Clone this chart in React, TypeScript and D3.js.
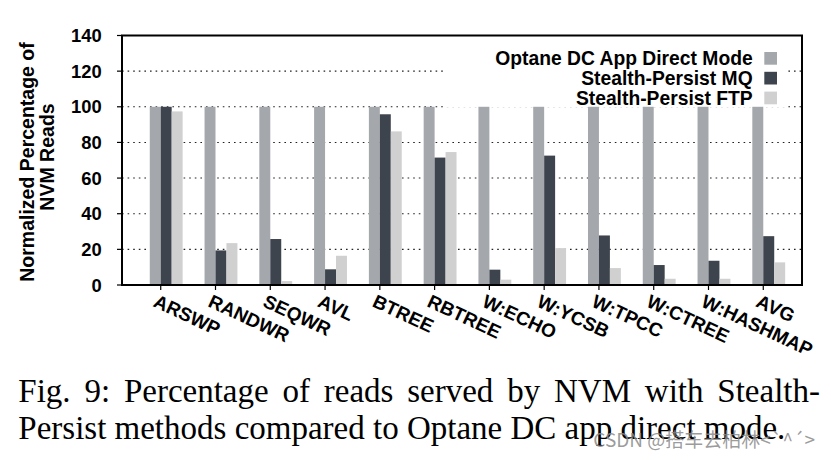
import React, { useMemo } from "react";
import * as d3 from "d3";

const categories = ["ARSWP", "RANDWR", "SEQWR", "AVL", "BTREE", "RBTREE", "W:ECHO", "W:YCSB", "W:TPCC", "W:CTREE", "W:HASHMAP", "AVG"];
const optane = [100, 100, 100, 100, 100, 100, 100, 100, 100, 100, 100, 100];
const stealthMQ = [100, 19.4, 25.8, 8.8, 95.8, 71.5, 8.6, 72.6, 27.8, 11.2, 13.6, 27.4];
const stealthFTP = [97.4, 23.5, 2.2, 16.4, 86.2, 74.6, 3.0, 20.7, 9.5, 3.5, 3.5, 12.7];
const seriesNames = ["Optane DC App Direct Mode", "Stealth-Persist MQ", "Stealth-Persist FTP"];
const seriesColors = ["#a4a8ac", "#3e444e", "#d0d0d0"];
const yTicks = [0, 20, 40, 60, 80, 100, 120, 140];
const yLabelLines = ["Normalized Percentage of", "NVM Reads"];
const captionLine1 = "Fig. 9: Percentage of reads served by NVM with Stealth-";
const captionLine2 = "Persist methods compared to Optane DC app direct mode.";
const watermark = "CSDN @搭车去柏林<`^´>";

const SANS = "'Liberation Sans', Arial, Helvetica, sans-serif";
const SERIF = "'Liberation Serif', 'Times New Roman', serif";

export default function App() {
  const W = 831, H = 460;
  const left = 122, right = 802, top = 35.5, bottom = 285;
  const x = d3.scaleBand<string>().domain(categories).range([left, right]).paddingInner(0).paddingOuter(0.207);
  const y = d3.scaleLinear().domain([0, 140]).range([bottom, top]);
  const barW = x.bandwidth() * 0.2;
  const tickX = (c: string) => (x(c) as number) + x.bandwidth() / 2;
  const series = [optane, stealthMQ, stealthFTP];

  const words1 = useMemo(() => {
    const words = captionLine1.split(" ");
    const canvas = document.createElement("canvas");
    const ctx = canvas.getContext("2d")!;
    ctx.font = `33px ${SERIF}`;
    const widths = words.map((w) => ctx.measureText(w).width);
    const total = widths.reduce((a, b) => a + b, 0);
    const x0 = 18.3, x1 = 820;
    const gap = (x1 - x0 - total) / (words.length - 1);
    let cx = x0;
    return words.map((w, i) => {
      const pos = cx;
      cx += widths[i] + gap;
      return { w, x: pos };
    });
  }, []);

  const legendRows = [58.3, 78.1, 97.9];

  return (
    <svg width={W} height={H} style={{ position: "absolute", left: 0, top: 0, background: "#fff" }}>
      <rect x={0} y={0} width={W} height={H} fill="#fff" />
      {/* grid */}
      {yTicks.filter((t) => t > 0 && t < 140).map((t) => (
        <line key={"g" + t} x1={left} x2={right} y1={y(t)} y2={y(t)} stroke="#222" strokeWidth={1.1} strokeDasharray="1.6,4" />
      ))}
      {/* legend background */}
      <rect x={443} y={44} width={345} height={63.5} fill="#fff" />
      {/* bars */}
      {series.map((vals, k) =>
        categories.map((c, i) => (
          <rect key={k + "-" + c} x={tickX(c) + (k - 1) * barW} y={y(vals[i])} width={barW} height={bottom - y(vals[i])} fill={seriesColors[k]} />
        ))
      )}
      {/* frame */}
      <rect x={left} y={top} width={right - left} height={bottom - top} fill="none" stroke="#000" strokeWidth={2} />
      {/* y ticks */}
      {yTicks.map((t) => (
        <g key={"y" + t}>
          <line x1={left - 5} x2={left} y1={y(t)} y2={y(t)} stroke="#000" strokeWidth={1.2} />
          <text x={101.7} y={y(t)} dy="0.36em" textAnchor="end" fontFamily={SANS} fontWeight="bold" fontSize={18.4} fill="#000">{t}</text>
        </g>
      ))}
      {/* x ticks and labels */}
      {categories.map((c) => (
        <g key={"x" + c}>
          <line x1={tickX(c)} x2={tickX(c)} y1={bottom} y2={bottom + 5} stroke="#000" strokeWidth={1.2} />
          <text transform={`translate(${tickX(c) - 8.5},${306}) rotate(25)`} textAnchor="start" fontFamily={SANS} fontWeight="bold" fontSize={19} fill="#000">{c}</text>
        </g>
      ))}
      {/* y label */}
      <text transform={`translate(33.5,162) rotate(-90)`} textAnchor="middle" fontFamily={SANS} fontWeight="bold" fontSize={19.5} fill="#000">{yLabelLines[0]}</text>
      <text transform={`translate(53.5,157) rotate(-90)`} textAnchor="middle" fontFamily={SANS} fontWeight="bold" fontSize={19.5} fill="#000">{yLabelLines[1]}</text>
      {/* legend */}
      {seriesNames.map((n, k) => (
        <g key={"l" + k}>
          <text x={752.7} y={legendRows[k]} dy="0.36em" textAnchor="end" fontFamily={SANS} fontWeight="bold" fontSize={19.3} fill="#000">{n}</text>
          <rect x={764.3} y={legendRows[k] - 6.3} width={12.7} height={12.7} fill={seriesColors[k]} />
        </g>
      ))}
      {/* caption */}
      {words1.map((o, i) => (
        <text key={"c" + i} x={o.x} y={401.7} fontFamily={SERIF} fontSize={33} fill="#000">{o.w}</text>
      ))}
      <text x={18.3} y={439} fontFamily={SERIF} fontSize={33} fill="#000">{captionLine2}</text>
      <text x={815} y={446.7} textAnchor="end" fontFamily="'Noto Sans CJK SC', 'Noto Sans', sans-serif" fontSize={19} fill="#8a8a8a" fillOpacity={0.85}>{watermark}</text>
    </svg>
  );
}
